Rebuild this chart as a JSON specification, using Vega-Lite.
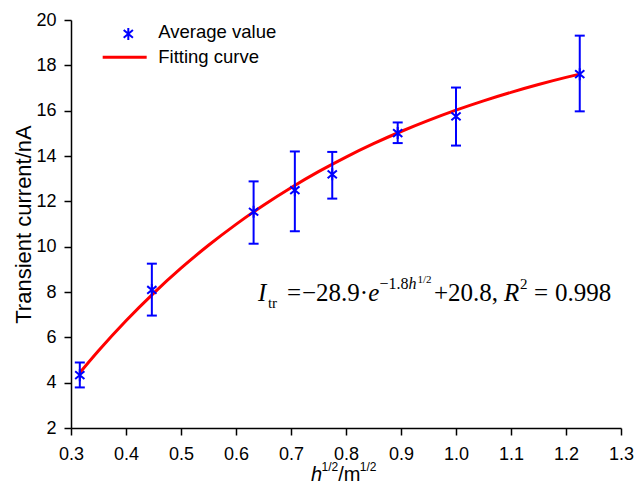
{
  "$schema": "https://vega.github.io/schema/vega-lite/v6.json",
  "autosize": {"type": "none"},
  "width": 550,
  "height": 408,
  "padding": {"left": 71, "top": 20, "right": 14, "bottom": 58},
  "background": "white",
  "datasets": {
    "fit": [
      {"x": 0.316, "y": 4.437}, {"x": 0.35, "y": 5.407}, {"x": 0.40, "y": 6.732},
      {"x": 0.45, "y": 7.943}, {"x": 0.50, "y": 9.050}, {"x": 0.55, "y": 10.061},
      {"x": 0.60, "y": 10.985}, {"x": 0.65, "y": 11.829}, {"x": 0.70, "y": 12.601},
      {"x": 0.75, "y": 13.309}, {"x": 0.80, "y": 13.953}, {"x": 0.85, "y": 14.543},
      {"x": 0.90, "y": 15.081}, {"x": 0.95, "y": 15.572}, {"x": 1.00, "y": 16.023},
      {"x": 1.05, "y": 16.433}, {"x": 1.10, "y": 16.809}, {"x": 1.15, "y": 17.153},
      {"x": 1.20, "y": 17.468}, {"x": 1.225, "y": 17.612}
    ],
    "avg": [
      {"x": 0.316, "y": 4.33, "lo": 3.79, "hi": 4.89},
      {"x": 0.447, "y": 8.09, "lo": 6.96, "hi": 9.25},
      {"x": 0.632, "y": 11.54, "lo": 10.13, "hi": 12.88},
      {"x": 0.707, "y": 12.49, "lo": 10.68, "hi": 14.20},
      {"x": 0.775, "y": 13.19, "lo": 12.12, "hi": 14.18},
      {"x": 0.894, "y": 15.01, "lo": 14.57, "hi": 15.48},
      {"x": 1.000, "y": 15.75, "lo": 14.46, "hi": 17.02},
      {"x": 1.225, "y": 17.61, "lo": 15.97, "hi": 19.31}
    ],
    "one": [{}]
  },
  "layer": [
    {
      "data": {"name": "fit"},
      "mark": {"type": "line", "color": "#ff0000", "strokeWidth": 3, "interpolate": "monotone"},
      "encoding": {
        "x": {
          "field": "x", "type": "quantitative",
          "scale": {"domain": [0.3, 1.3], "nice": false, "zero": false},
          "axis": {
            "title": null,
            "values": [0.3, 0.35, 0.4, 0.45, 0.5, 0.55, 0.6, 0.65, 0.7, 0.75, 0.8, 0.85, 0.9, 0.95, 1.0, 1.05, 1.1, 1.15, 1.2, 1.25, 1.3],
            "labelExpr": "round(datum.value*100) % 10 == 5 ? '' : format(datum.value, '.1f')",
            "tickSize": {"condition": {"test": "round(datum.value*100) % 10 == 5", "value": 4}, "value": 7},
            "labelPadding": 10,
            "labelFlush": false,
            "labelOverlap": false,
            "labelBound": false
          }
        },
        "y": {
          "field": "y", "type": "quantitative",
          "scale": {"domain": [2, 20], "nice": false, "zero": false},
          "axis": {
            "title": "Transient current/nA",
            "titleFontSize": 22,
            "titlePadding": 0,
            "values": [2, 3, 4, 5, 6, 7, 8, 9, 10, 11, 12, 13, 14, 15, 16, 17, 18, 19, 20],
            "labelExpr": "datum.value % 2 == 0 ? datum.label : ''",
            "tickSize": {"condition": {"test": "datum.value % 2 == 1", "value": 4}, "value": 7},
            "labelPadding": 8,
            "labelOverlap": false,
            "labelBound": false,
            "labelFlush": false
          }
        }
      }
    },
    {
      "data": {"name": "avg"},
      "mark": {"type": "rule", "color": "#0000ff", "strokeWidth": 2},
      "encoding": {
        "x": {"field": "x", "type": "quantitative"},
        "y": {"field": "lo", "type": "quantitative"},
        "y2": {"field": "hi"}
      }
    },
    {
      "data": {"name": "avg"},
      "mark": {"type": "point", "shape": "stroke", "size": 100, "filled": false, "color": "#0000ff", "strokeWidth": 2, "opacity": 1},
      "encoding": {
        "x": {"field": "x", "type": "quantitative"},
        "y": {"field": "lo", "type": "quantitative"}
      }
    },
    {
      "data": {"name": "avg"},
      "mark": {"type": "point", "shape": "stroke", "size": 100, "filled": false, "color": "#0000ff", "strokeWidth": 2, "opacity": 1},
      "encoding": {
        "x": {"field": "x", "type": "quantitative"},
        "y": {"field": "hi", "type": "quantitative"}
      }
    },
    {
      "data": {"name": "avg"},
      "mark": {"type": "point", "shape": "M0,-1L0,1M-0.77,-0.64L0.77,0.64M-0.77,0.64L0.77,-0.64", "size": 144, "filled": false, "color": "#0000ff", "strokeWidth": 2, "opacity": 1},
      "encoding": {
        "x": {"field": "x", "type": "quantitative"},
        "y": {"field": "y", "type": "quantitative"}
      }
    },
    {
      "data": {"name": "one"},
      "mark": {"type": "point", "shape": "M0,-1L0,1M-0.77,-0.64L0.77,0.64M-0.77,0.64L0.77,-0.64", "size": 144, "filled": false, "color": "#0000ff", "strokeWidth": 2, "opacity": 1},
      "encoding": {"x": {"datum": 0.4042}, "y": {"datum": 19.387}}
    },
    {
      "data": {"name": "one"},
      "mark": {"type": "rule", "color": "#ff0000", "strokeWidth": 3},
      "encoding": {"x": {"datum": 0.3576}, "x2": {"datum": 0.4376}, "y": {"datum": 18.36}}
    },
    {
      "data": {"name": "one"},
      "mark": {"type": "text", "text": "Average value", "font": "Liberation Sans", "fontSize": 18.5, "align": "left", "baseline": "alphabetic", "color": "black"},
      "encoding": {"x": {"datum": 0.4587}, "y": {"datum": 19.2}}
    },
    {
      "data": {"name": "one"},
      "mark": {"type": "text", "text": "Fitting curve", "font": "Liberation Sans", "fontSize": 18.5, "align": "left", "baseline": "alphabetic", "color": "black"},
      "encoding": {"x": {"datum": 0.4587}, "y": {"datum": 18.095}}
    },
    {
      "data": {"name": "one"},
      "mark": {"type": "text", "text": "I", "font": "Liberation Serif", "fontStyle": "italic", "fontSize": 25, "align": "left", "baseline": "alphabetic", "color": "black"},
      "encoding": {"x": {"datum": 0.64}, "y": {"datum": 7.588}}
    },
    {
      "data": {"name": "one"},
      "mark": {"type": "text", "text": "tr", "font": "Liberation Serif", "fontSize": 15, "align": "left", "baseline": "alphabetic", "color": "black"},
      "encoding": {"x": {"datum": 0.658}, "y": {"datum": 7.297}}
    },
    {
      "data": {"name": "one"},
      "mark": {"type": "text", "text": "=", "font": "Liberation Serif", "fontSize": 25, "align": "left", "baseline": "alphabetic", "color": "black"},
      "encoding": {"x": {"datum": 0.6927}, "y": {"datum": 7.588}}
    },
    {
      "data": {"name": "one"},
      "mark": {"type": "text", "text": "−28.9·", "font": "Liberation Serif", "fontSize": 25, "align": "left", "baseline": "alphabetic", "color": "black"},
      "encoding": {"x": {"datum": 0.72}, "y": {"datum": 7.588}}
    },
    {
      "data": {"name": "one"},
      "mark": {"type": "text", "text": "e", "font": "Liberation Serif", "fontStyle": "italic", "fontSize": 25, "align": "left", "baseline": "alphabetic", "color": "black"},
      "encoding": {"x": {"datum": 0.8405}, "y": {"datum": 7.588}}
    },
    {
      "data": {"name": "one"},
      "mark": {"type": "text", "text": "−1.8", "font": "Liberation Serif", "fontSize": 16, "align": "left", "baseline": "alphabetic", "color": "black"},
      "encoding": {"x": {"datum": 0.861}, "y": {"datum": 8.15}}
    },
    {
      "data": {"name": "one"},
      "mark": {"type": "text", "text": "h", "font": "Liberation Serif", "fontStyle": "italic", "fontSize": 16, "align": "left", "baseline": "alphabetic", "color": "black"},
      "encoding": {"x": {"datum": 0.9137}, "y": {"datum": 8.15}}
    },
    {
      "data": {"name": "one"},
      "mark": {"type": "text", "text": "1/2", "font": "Liberation Serif", "fontSize": 11, "align": "left", "baseline": "alphabetic", "color": "black"},
      "encoding": {"x": {"datum": 0.93}, "y": {"datum": 8.40}}
    },
    {
      "data": {"name": "one"},
      "mark": {"type": "text", "text": "+20.8,", "font": "Liberation Serif", "fontSize": 25, "align": "left", "baseline": "alphabetic", "color": "black"},
      "encoding": {"x": {"datum": 0.9600}, "y": {"datum": 7.588}}
    },
    {
      "data": {"name": "one"},
      "mark": {"type": "text", "text": "R", "font": "Liberation Serif", "fontStyle": "italic", "fontSize": 25, "align": "left", "baseline": "alphabetic", "color": "black"},
      "encoding": {"x": {"datum": 1.0873}, "y": {"datum": 7.588}}
    },
    {
      "data": {"name": "one"},
      "mark": {"type": "text", "text": "2", "font": "Liberation Serif", "fontSize": 15, "align": "left", "baseline": "alphabetic", "color": "black"},
      "encoding": {"x": {"datum": 1.1164}, "y": {"datum": 8.15}}
    },
    {
      "data": {"name": "one"},
      "mark": {"type": "text", "text": "=", "font": "Liberation Serif", "fontSize": 25, "align": "left", "baseline": "alphabetic", "color": "black"},
      "encoding": {"x": {"datum": 1.1418}, "y": {"datum": 7.588}}
    },
    {
      "data": {"name": "one"},
      "mark": {"type": "text", "text": "0.998", "font": "Liberation Serif", "fontSize": 25, "align": "left", "baseline": "alphabetic", "color": "black"},
      "encoding": {"x": {"datum": 1.18}, "y": {"datum": 7.588}}
    },
    {
      "data": {"name": "one"},
      "mark": {"type": "text", "text": "h", "font": "Liberation Sans", "fontStyle": "italic", "fontSize": 20, "align": "left", "baseline": "alphabetic", "color": "black"},
      "encoding": {"x": {"datum": 0.7364}, "y": {"datum": -0.345}}
    },
    {
      "data": {"name": "one"},
      "mark": {"type": "text", "text": "1/2", "font": "Liberation Sans", "fontSize": 12, "align": "left", "baseline": "alphabetic", "color": "black"},
      "encoding": {"x": {"datum": 0.7555}, "y": {"datum": 0.087}}
    },
    {
      "data": {"name": "one"},
      "mark": {"type": "text", "text": "/m", "font": "Liberation Sans", "fontSize": 20, "align": "left", "baseline": "alphabetic", "color": "black"},
      "encoding": {"x": {"datum": 0.786}, "y": {"datum": -0.345}}
    },
    {
      "data": {"name": "one"},
      "mark": {"type": "text", "text": "1/2", "font": "Liberation Sans", "fontSize": 12, "align": "left", "baseline": "alphabetic", "color": "black"},
      "encoding": {"x": {"datum": 0.825}, "y": {"datum": 0.087}}
    }
  ],
  "config": {
    "view": {"stroke": null},
    "axis": {
      "grid": false,
      "domainColor": "black",
      "domainWidth": 1.5,
      "tickColor": "black",
      "tickWidth": 1.5,
      "labelColor": "black",
      "labelFont": "Liberation Sans",
      "labelFontSize": 18,
      "titleFont": "Liberation Sans",
      "titleFontWeight": "normal",
      "titleColor": "black"
    }
  }
}
